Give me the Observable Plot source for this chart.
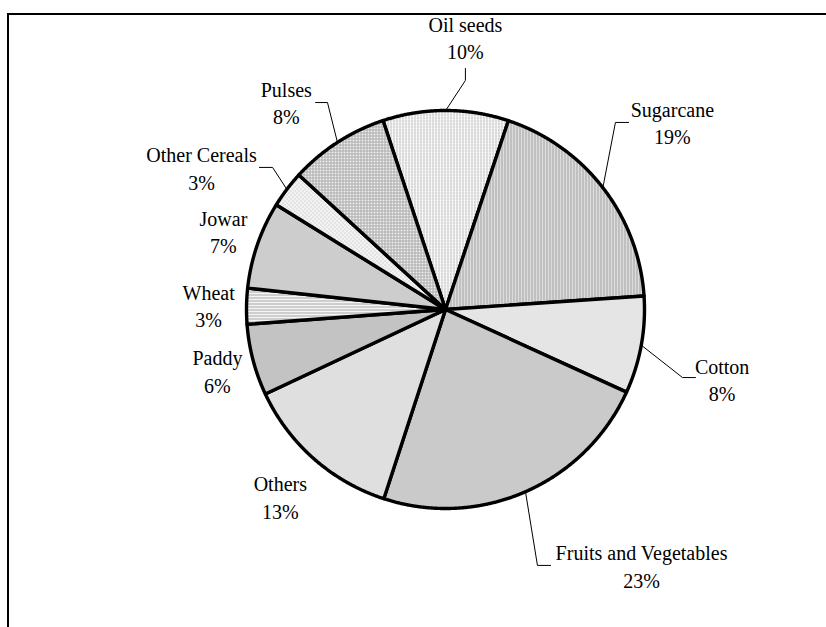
<!DOCTYPE html>
<html><head><meta charset="utf-8">
<script src="https://cdn.jsdelivr.net/npm/d3@7"></script>
<script src="https://cdn.jsdelivr.net/npm/@observablehq/plot@0.6"></script>
<style>
html,body{margin:0;padding:0;background:#fff;overflow:hidden;}
#wrap{position:relative;width:826px;height:627px;overflow:hidden;}
#wrap svg{position:absolute;left:0;top:0;}
#frame{position:absolute;left:7px;top:13px;width:900px;height:700px;border-left:2px solid #000;border-top:2px solid #000;pointer-events:none;}
</style></head><body><div id="wrap"><div id="frame"></div></div>
<script>
// ---- data ----
const categories = ["Oil seeds","Sugarcane","Cotton","Fruits and Vegetables","Others","Paddy","Wheat","Jowar","Other Cereals","Pulses"];
const shares = [10.2, 18.8, 7.9, 23.2, 13.0, 5.8, 2.9, 7.1, 3.0, 8.1];
const percentLabels = ["10%","19%","8%","23%","13%","6%","3%","7%","3%","8%"];

// ---- layout (in pie radii, relative to the centre, y up) ----
const startAngle = -18.3; // degrees clockwise from 12 o'clock
const labelX = [0.10, 1.14, 1.39, 0.985, -0.83, -1.146, -1.19, -1.116, -1.226, -0.80];
const labelY = [1.37, 0.945, -0.349, -1.286, -0.937, -0.304, 0.023, 0.397, 0.716, 1.045];
const elbowX = [0.10, 0.854, 1.191, 0.462, null, null, null, null, -0.869, -0.593];
const elbowY = [1.151, 0.940, -0.342, -1.286, null, null, null, null, 0.714, 1.040];
const endX = [0.10, 0.920, 1.256, 0.528, null, null, null, null, -0.935, -0.653];
const endY = [1.211, 0.940, -0.342, -1.286, null, null, null, null, 0.714, 1.040];

// ---- fill patterns (greyscale textures) ----
const patterns = [
  {w:3,h:3,bg:"#ffffff",r:[[0,0,1,3,"#c4c4c4"],[1,0,2,1,"#e6e6e6"]]},
  {w:3,h:1,bg:"#dcdcdc",r:[[0,0,1,1,"#a4a4a4"]]},
  {w:2,h:2,bg:"#ececec",r:[[0,0,1,1,"#cfcfcf"]]},
  {w:2,h:2,bg:"#dadada",r:[[0,0,1,1,"#b0b0b0"],[1,1,1,1,"#c4c4c4"]]},
  {w:2,h:2,bg:"#e6e6e6",r:[[0,0,1,1,"#c8c8c8"]]},
  {w:2,h:2,bg:"#dcdcdc",r:[[0,0,1,1,"#9c9c9c"],[1,1,1,1,"#b8b8b8"]]},
  {w:1,h:3,bg:"#f4f4f4",r:[[0,0,1,1,"#a8a8a8"]]},
  {w:2,h:2,bg:"#d6d6d6",r:[[0,0,1,1,"#b0b0b0"]]},
  {w:4,h:4,bg:"#f2f2f2",r:[[0,0,1,1,"#bbbbbb"],[2,2,1,1,"#bbbbbb"]]},
  {w:3,h:3,bg:"#f0f0f0",r:[[0,0,3,1,"#aaaaaa"],[0,0,1,3,"#aaaaaa"]]}
];

// ---- derived geometry ----
const total = d3.sum(shares);
let acc = startAngle;
const slices = categories.map((name, i) => {
  const a0 = acc, a1 = acc + shares[i] / total * 360;
  acc = a1;
  return {name, i, a0, a1, mid: (a0 + a1) / 2};
});
const rad = a => a * Math.PI / 180;
const slicePts = [];
for (const s of slices) {
  const pat = `url(#pat${s.i})`;
  slicePts.push({name: s.name, pat, x: 0, y: 0});
  const n = Math.max(2, Math.ceil((s.a1 - s.a0) / 0.25));
  for (let k = 0; k <= n; k++) {
    const a = rad(s.a0 + (s.a1 - s.a0) * k / n);
    slicePts.push({name: s.name, pat, x: Math.sin(a), y: Math.cos(a)});
  }
  slicePts.push({name: s.name, pat, x: 0, y: 0});
}
const leaderPts = [];
slices.forEach((s, i) => {
  if (elbowX[i] == null) return;
  const a = rad(s.mid);
  leaderPts.push({name: s.name, x: Math.sin(a), y: Math.cos(a)});
  leaderPts.push({name: s.name, x: elbowX[i], y: elbowY[i]});
  leaderPts.push({name: s.name, x: endX[i], y: endY[i]});
});
const labels = categories.map((name, i) => ({x: labelX[i], y: labelY[i], text: `${name}\n${percentLabels[i]}`}));

const chart = Plot.plot({
  width: 826, height: 627,
  marginLeft: 246, marginRight: 182, marginTop: 110, marginBottom: 119,
  x: {domain: [-1, 1], axis: null},
  y: {domain: [-1, 1], axis: null},
  color: {type: "identity"},
  style: {background: "transparent", overflow: "visible"},
  marks: [
    Plot.line(slicePts, {x: "x", y: "y", z: "name", fill: "pat", stroke: "black", strokeWidth: 3.4, strokeLinejoin: "round"}),
    Plot.line(leaderPts, {x: "x", y: "y", z: "name", stroke: "black", strokeWidth: 1}),
    Plot.text(labels, {x: "x", y: "y", text: "text", fontFamily: "Liberation Serif", fontSize: 20, lineHeight: 1.375, fill: "black", textAnchor: "middle"})
  ]
});

const defs = d3.select(chart).insert("defs", ":first-child");
patterns.forEach((p, i) => {
  const pat = defs.append("pattern").attr("id", `pat${i}`).attr("patternUnits", "userSpaceOnUse")
    .attr("width", p.w).attr("height", p.h);
  pat.append("rect").attr("width", p.w).attr("height", p.h).attr("fill", p.bg);
  p.r.forEach(([x, y, w, h, c]) => pat.append("rect").attr("x", x).attr("y", y).attr("width", w).attr("height", h).attr("fill", c));
});
document.getElementById("wrap").insertBefore(chart, document.getElementById("frame"));
</script>
</body></html>
